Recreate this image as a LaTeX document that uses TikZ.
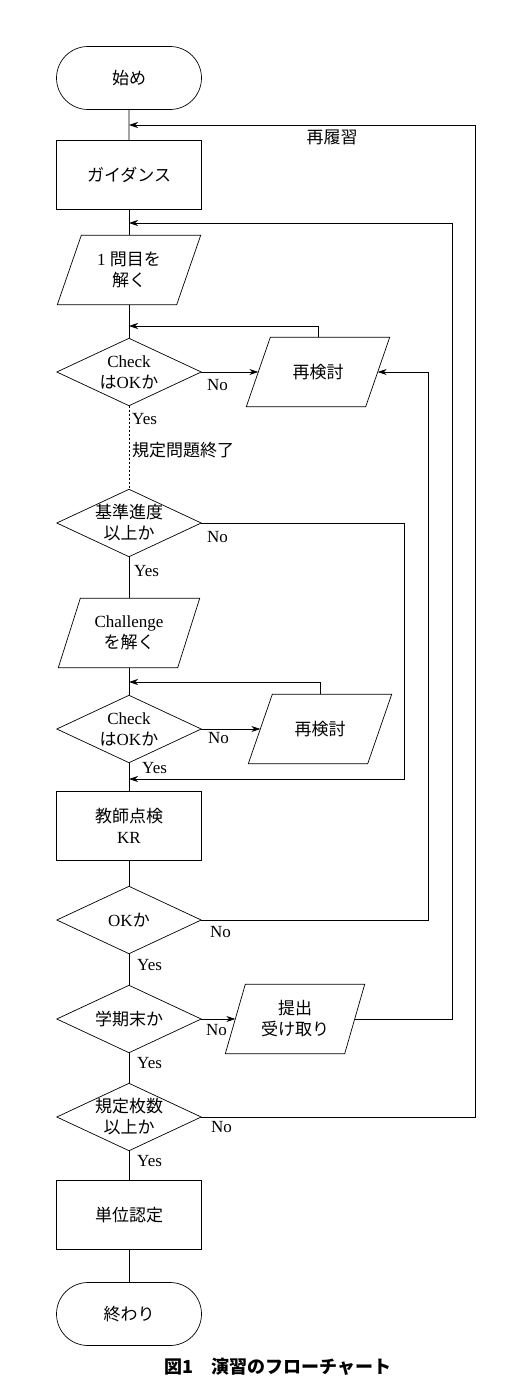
\documentclass[tikz,border=0pt]{standalone}
\usepackage{fontspec}
\setmainfont{Liberation Serif}
\newfontfamily\jpf{Noto Sans CJK JP}
\newcommand\J[1]{{\jpf #1}}
\usetikzlibrary{shapes.geometric,shapes.misc,arrows.meta,calc}
\begin{document}
\begin{tikzpicture}[x=1pt,y=-1pt,
  every node/.style={font=\fontsize{17}{21}\selectfont},
  base/.style={draw, line width=0.7pt, inner sep=0pt, align=center},
  term/.style={base, rounded rectangle, minimum width=145pt, minimum height=63pt},
  proc/.style={base, rectangle, minimum width=145pt, minimum height=69pt},
  dec/.style={align=center, inner sep=0pt, minimum width=144pt, minimum height=67pt},
  io/.style={align=center, inner sep=0pt, minimum width=119pt, minimum height=69pt},
  line/.style={line width=0.7pt},
  arr/.style={line, -{Stealth[length=9pt,width=6pt]}},
  lab/.style={inner sep=0pt, anchor=west},
]
\useasboundingbox (0,0) rectangle (529,1389);

% main column
\node[term] (start) at (129,78)   {\J{始め}};
\node[proc] (guid)  at (129,175)  {\J{ガイダンス}};
\node[io]   (p1)    at (129,270)  {1\hspace{0.25em}\J{問目を}\\\J{解く}};
\node[dec]  (d1)    at (129,372)  {Check\\\J{は}OK\J{か}};
\node[io]   (rk1)   at (318,372)  {\J{再検討}};
\node[dec]  (d2)    at (129,523)  {\J{基準進度}\\\J{以上か}};
\node[io]   (ch)    at (129,633)  {Challenge\\\J{を解く}};
\node[dec]  (d3)    at (129,729)  {Check\\\J{は}OK\J{か}};
\node[io]   (rk2)   at (320,729)  {\J{再検討}};
\node[proc] (kr)    at (129,826)  {\J{教師点検}\\KR};
\node[dec]  (d4)    at (129,920)  {OK\J{か}};
\node[dec]  (d5)    at (129,1019) {\J{学期末か}};
\node[io]   (sub)   at (295,1019) {\J{提出}\\\J{受け取り}};
\node[dec]  (d6)    at (129,1117) {\J{規定枚数}\\\J{以上か}};
\node[proc] (tan)   at (129,1215) {\J{単位認定}};
\node[term] (end)   at (129,1314) {\J{終わり}};

% parallelograms
\foreach \n/\s in {p1/12, rk1/12, ch/11, rk2/12, sub/10}
  \draw[line] ($(\n.south west)+(-\s,0)$) -- ($(\n.south east)+(-\s,0)$)
    -- ($(\n.north east)+(\s,0)$) -- ($(\n.north west)+(\s,0)$) -- cycle;

% diamonds
\foreach \n in {d1,d2,d3,d4,d5,d6}
  \draw[line] (\n.north) -- (\n.east) -- (\n.south) -- (\n.west) -- cycle;

% junction coordinates
\coordinate (j1) at (129,125);
\coordinate (j2) at (129,223);
\coordinate (j3) at (129,326);
\coordinate (j4) at (129,682);
\coordinate (j5) at (129,779);
\coordinate (c2) at (404,779);
\coordinate (c4) at (428,372);
\coordinate (c5) at (452,223);
\coordinate (c6) at (475,125);

% main flow
\draw[line] (start) -- (guid);
\draw[line] (guid) -- (p1);
\draw[line] (p1) -- (d1);
\draw[line, dash pattern=on 2pt off 2pt] (d1) -- (d2);
\draw[line] (d2) -- (ch);
\draw[line] (ch) -- (d3);
\draw[line] (d3) -- (kr);
\draw[line] (kr) -- (d4);
\draw[line] (d4) -- (d5);
\draw[line] (d5) -- (d6);
\draw[line] (d6) -- (tan);
\draw[line] (tan) -- (end);

% branches
\draw[arr] (d1.east) -- (rk1.west);
\draw[arr] (rk1.north) |- (j3);
\draw[arr] (d3.east) -- (rk2.west);
\draw[arr] (rk2.north) |- (j4);
\draw[arr] (d2.east) -| (c2) -- (j5);
\draw[arr] (d4.east) -| (c4) -- (rk1.east);
\draw[arr] (d5.east) -- (sub.west);
\draw[arr] (sub.east) -| (c5) -- (j2);
\draw[arr] (d6.east) -| (c6) -- (j1);

% labels
\node[lab] (y1) at (132,419) {Yes};
\node[lab] (n1) at (207,385) {No};
\node[lab] (t1) at (132,450) {\J{規定問題終了}};
\node[lab] (y2) at (134,571) {Yes};
\node[lab] (n2) at (207,537) {No};
\node[lab] (y3) at (142,768) {Yes};
\node[lab] (n3) at (208,738) {No};
\node[lab] (y4) at (137,965) {Yes};
\node[lab] (n4) at (210,932) {No};
\node[lab] (y5) at (137,1063) {Yes};
\node[lab] (n5) at (206,1030) {No};
\node[lab] (y6) at (137,1161) {Yes};
\node[lab] (n6) at (211,1127) {No};
\node (rr) at (332,137) {\J{再履習}};
\node[font={\fontsize{18}{22}\selectfont\jpf\bfseries}] (cap) at (278,1367) {図1\quad 演習のフローチャート};
\end{tikzpicture}
\end{document}
